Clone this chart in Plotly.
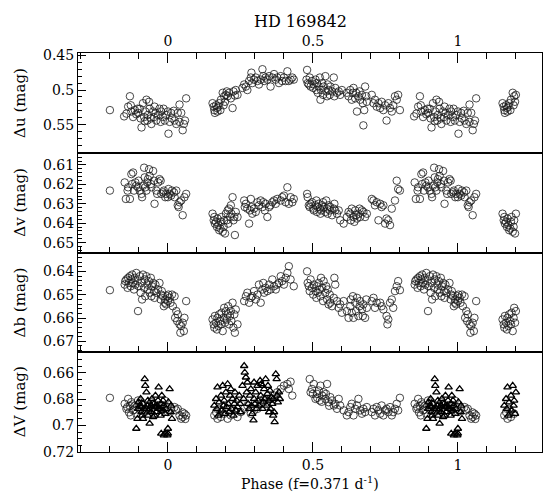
import plotly.graph_objects as go
from plotly.subplots import make_subplots

# ---------------- data (base phase in [0,1), magnitude) ----------------
u_points = [
    (0.849,0.538),(0.857,0.534),(0.863,0.524),(0.869,0.509),(0.874,0.531),(0.880,0.539),(0.886,0.529),
    (0.891,0.535),(0.897,0.533),(0.903,0.527),(0.906,0.541),(0.909,0.554),(0.914,0.519),(0.918,0.539),
    (0.922,0.531),(0.926,0.514),(0.929,0.544),(0.931,0.536),(0.937,0.527),(0.941,0.541),(0.943,0.549),
    (0.949,0.531),(0.952,0.539),(0.954,0.524),(0.960,0.544),(0.966,0.536),(0.971,0.527),(0.975,0.546),
    (0.977,0.531),(0.983,0.539),(0.989,0.544),(0.994,0.536),(0.000,0.531),(0.002,0.563),(0.006,0.546),
    (0.011,0.533),(0.014,0.541),(0.023,0.544),(0.029,0.549),(0.034,0.533),(0.040,0.546),(0.046,0.533),
    (0.051,0.558),(0.055,0.549),(0.059,0.544),(0.063,0.512),(0.872,0.522),(0.895,0.527),(0.920,0.545),
    (0.935,0.517),(0.958,0.533),(0.985,0.527),(0.020,0.530),(0.040,0.521),
    (0.154,0.519),(0.158,0.524),(0.160,0.529),(0.162,0.533),(0.166,0.522),(0.169,0.526),(0.171,0.531),
    (0.174,0.524),(0.177,0.519),(0.181,0.529),(0.183,0.514),(0.189,0.504),(0.192,0.522),(0.194,0.509),
    (0.197,0.517),(0.200,0.507),(0.203,0.502),(0.206,0.509),(0.211,0.504),(0.217,0.512),(0.223,0.526),
    (0.226,0.502),(0.231,0.508),(0.234,0.500),(0.240,0.507),(0.257,0.497),(0.263,0.492),(0.269,0.495),
    (0.274,0.500),(0.280,0.487),(0.286,0.482),(0.288,0.475),(0.291,0.490),(0.297,0.485),(0.303,0.482),
    (0.309,0.487),(0.314,0.492),(0.320,0.485),(0.326,0.470),(0.329,0.480),(0.332,0.487),(0.337,0.482),
    (0.343,0.485),(0.349,0.480),(0.354,0.495),(0.360,0.482),(0.366,0.477),(0.372,0.485),(0.377,0.482),
    (0.383,0.490),(0.389,0.480),(0.394,0.487),(0.400,0.482),(0.406,0.487),(0.412,0.473),(0.417,0.487),
    (0.423,0.485),(0.429,0.482),(0.434,0.485),
    (0.480,0.471),(0.478,0.485),(0.482,0.490),(0.486,0.492),(0.489,0.482),(0.492,0.495),(0.497,0.487),
    (0.501,0.497),(0.503,0.492),(0.509,0.485),(0.512,0.500),(0.514,0.490),(0.517,0.504),(0.520,0.495),
    (0.524,0.482),(0.526,0.514),(0.528,0.500),(0.532,0.490),(0.535,0.507),(0.537,0.495),(0.543,0.480),
    (0.546,0.502),(0.549,0.509),(0.551,0.492),(0.554,0.500),(0.558,0.507),(0.560,0.495),(0.566,0.502),
    (0.572,0.482),(0.574,0.509),(0.577,0.497),(0.583,0.504),(0.589,0.502),(0.594,0.507),(0.600,0.500),
    (0.617,0.504),(0.623,0.509),(0.629,0.500),(0.634,0.514),(0.638,0.504),(0.640,0.497),(0.646,0.512),
    (0.649,0.504),(0.652,0.531),(0.657,0.509),(0.661,0.502),(0.663,0.514),(0.669,0.507),(0.672,0.519),
    (0.674,0.551),(0.677,0.529),(0.680,0.495),(0.684,0.509),(0.686,0.517),(0.703,0.507),(0.709,0.519),
    (0.714,0.514),(0.720,0.524),(0.726,0.519),(0.732,0.526),(0.737,0.517),(0.743,0.529),(0.749,0.522),
    (0.754,0.544),(0.760,0.519),(0.766,0.526),(0.772,0.531),(0.777,0.522),(0.783,0.509),(0.789,0.514),
    (0.794,0.507),(0.800,0.529),
]

v_points = [
    (0.851,0.6190),(0.855,0.6275),(0.861,0.6232),(0.863,0.6215),(0.869,0.6275),(0.874,0.6147),(0.877,0.6198),
    (0.880,0.6139),(0.883,0.6232),(0.888,0.6190),(0.891,0.6207),(0.897,0.6215),(0.899,0.6181),(0.903,0.6232),
    (0.909,0.6249),(0.911,0.6266),(0.914,0.6207),(0.918,0.6114),(0.920,0.6164),(0.922,0.6215),(0.926,0.6232),
    (0.929,0.6190),(0.931,0.6173),(0.935,0.6122),(0.937,0.6156),(0.941,0.6198),(0.943,0.6215),(0.949,0.6131),
    (0.952,0.6181),(0.954,0.6300),(0.960,0.6232),(0.963,0.6249),(0.966,0.6190),(0.971,0.6173),(0.975,0.6181),
    (0.977,0.6249),(0.983,0.6241),(0.986,0.6232),(0.991,0.6266),(0.994,0.6249),(0.000,0.6266),(0.002,0.6224),
    (0.006,0.6249),(0.011,0.6258),(0.014,0.6232),(0.021,0.6241),(0.023,0.6266),(0.029,0.6232),(0.034,0.6308),
    (0.037,0.6317),(0.040,0.6292),(0.046,0.6283),(0.051,0.6359),(0.057,0.6266),(0.063,0.6249),
    (0.154,0.6351),(0.158,0.6385),(0.160,0.6368),(0.162,0.6402),(0.166,0.6393),(0.169,0.6419),(0.171,0.6376),
    (0.174,0.6410),(0.177,0.6436),(0.181,0.6427),(0.183,0.6393),(0.185,0.6368),(0.189,0.6444),(0.192,0.6419),
    (0.194,0.6385),(0.197,0.6453),(0.200,0.6351),(0.203,0.6385),(0.206,0.6334),(0.208,0.6402),(0.211,0.6325),
    (0.214,0.6368),(0.217,0.6308),(0.219,0.6351),(0.223,0.6266),(0.226,0.6385),(0.229,0.6368),(0.231,0.6461),
    (0.234,0.6342),(0.240,0.6368),
    (0.263,0.6283),(0.265,0.6317),(0.269,0.6300),(0.274,0.6325),(0.280,0.6402),(0.283,0.6334),(0.286,0.6275),
    (0.288,0.6317),(0.291,0.6351),(0.297,0.6325),(0.303,0.6342),(0.309,0.6292),(0.314,0.6308),(0.320,0.6283),
    (0.326,0.6317),(0.329,0.6292),(0.334,0.6334),(0.337,0.6300),(0.343,0.6368),(0.349,0.6317),(0.354,0.6308),
    (0.360,0.6292),(0.366,0.6283),(0.372,0.6300),(0.377,0.6275),(0.389,0.6283),(0.394,0.6266),(0.400,0.6258),
    (0.406,0.6292),(0.412,0.6215),(0.417,0.6300),(0.423,0.6266),(0.429,0.6292),(0.434,0.6275),
    (0.480,0.6249),(0.482,0.6266),(0.486,0.6308),(0.489,0.6317),(0.492,0.6300),(0.497,0.6292),(0.501,0.6325),
    (0.503,0.6334),(0.509,0.6308),(0.512,0.6283),(0.514,0.6342),(0.517,0.6317),(0.520,0.6300),(0.524,0.6325),
    (0.526,0.6351),(0.528,0.6334),(0.532,0.6308),(0.535,0.6292),(0.537,0.6317),(0.543,0.6342),(0.546,0.6283),
    (0.549,0.6325),(0.551,0.6351),(0.554,0.6308),(0.558,0.6334),(0.560,0.6317),(0.566,0.6359),(0.572,0.6325),
    (0.574,0.6300),(0.577,0.6334),(0.583,0.6351),(0.589,0.6334),(0.594,0.6385),(0.606,0.6402),(0.617,0.6368),
    (0.623,0.6342),(0.629,0.6351),(0.631,0.6385),(0.634,0.6325),(0.640,0.6368),(0.643,0.6393),(0.646,0.6334),
    (0.649,0.6359),(0.652,0.6376),(0.657,0.6351),(0.661,0.6325),(0.663,0.6368),(0.669,0.6334),(0.674,0.6342),
    (0.680,0.6368),(0.686,0.6351),(0.703,0.6275),(0.709,0.6283),(0.714,0.6308),(0.720,0.6292),(0.726,0.6385),
    (0.732,0.6300),(0.737,0.6317),(0.743,0.6308),(0.749,0.6402),(0.754,0.6376),(0.760,0.6385),(0.766,0.6410),
    (0.772,0.6325),(0.783,0.6283),(0.789,0.6181),(0.794,0.6224),(0.800,0.6232),
]

b_points = [
    (0.851,0.6456),(0.853,0.6441),(0.857,0.6434),(0.861,0.6470),(0.863,0.6427),(0.865,0.6449),(0.869,0.6420),
    (0.872,0.6463),(0.874,0.6434),(0.877,0.6413),(0.880,0.6449),(0.883,0.6477),(0.886,0.6427),(0.888,0.6456),
    (0.891,0.6406),(0.895,0.6441),(0.897,0.6570),(0.899,0.6463),(0.903,0.6420),(0.906,0.6491),(0.909,0.6449),
    (0.911,0.6520),(0.914,0.6413),(0.918,0.6470),(0.920,0.6434),(0.922,0.6506),(0.926,0.6420),(0.929,0.6456),
    (0.931,0.6477),(0.934,0.6441),(0.937,0.6491),(0.941,0.6427),(0.943,0.6506),(0.945,0.6463),(0.949,0.6449),
    (0.952,0.6484),(0.954,0.6513),(0.957,0.6456),(0.960,0.6491),(0.966,0.6477),(0.971,0.6449),(0.975,0.6520),
    (0.977,0.6499),(0.979,0.6484),(0.983,0.6506),(0.986,0.6549),(0.989,0.6534),(0.991,0.6520),(0.994,0.6541),
    (0.998,0.6506),(0.000,0.6527),(0.002,0.6499),(0.006,0.6513),(0.009,0.6534),(0.014,0.6499),(0.017,0.6549),
    (0.023,0.6506),(0.025,0.6599),(0.029,0.6570),(0.032,0.6613),(0.034,0.6584),(0.040,0.6627),(0.043,0.6663),
    (0.046,0.6634),(0.051,0.6620),(0.055,0.6656),(0.057,0.6599),(0.063,0.6527),
    (0.154,0.6606),(0.158,0.6627),(0.160,0.6641),(0.162,0.6591),(0.166,0.6620),(0.169,0.6649),(0.171,0.6599),
    (0.174,0.6634),(0.177,0.6584),(0.181,0.6613),(0.183,0.6627),(0.185,0.6577),(0.189,0.6656),(0.192,0.6599),
    (0.194,0.6556),(0.197,0.6620),(0.200,0.6570),(0.203,0.6606),(0.206,0.6584),(0.208,0.6549),(0.211,0.6627),
    (0.214,0.6591),(0.217,0.6570),(0.219,0.6613),(0.223,0.6534),(0.226,0.6641),(0.229,0.6584),(0.231,0.6663),
    (0.234,0.6563),(0.240,0.6627),
    (0.263,0.6527),(0.269,0.6506),(0.274,0.6491),(0.280,0.6534),(0.286,0.6513),(0.291,0.6506),(0.297,0.6484),
    (0.303,0.6520),(0.309,0.6499),(0.314,0.6456),(0.320,0.6534),(0.326,0.6477),(0.329,0.6449),(0.332,0.6491),
    (0.337,0.6470),(0.343,0.6484),(0.349,0.6456),(0.354,0.6477),(0.360,0.6434),(0.366,0.6463),(0.372,0.6477),
    (0.377,0.6456),(0.383,0.6449),(0.389,0.6420),(0.394,0.6441),(0.400,0.6456),(0.406,0.6427),(0.412,0.6406),
    (0.417,0.6377),(0.423,0.6434),(0.434,0.6463),
    (0.480,0.6399),(0.482,0.6449),(0.486,0.6463),(0.489,0.6484),(0.492,0.6434),(0.497,0.6470),(0.501,0.6499),
    (0.503,0.6456),(0.509,0.6484),(0.512,0.6513),(0.514,0.6463),(0.517,0.6491),(0.520,0.6449),(0.524,0.6477),
    (0.526,0.6506),(0.528,0.6427),(0.532,0.6470),(0.535,0.6527),(0.537,0.6441),(0.543,0.6491),(0.546,0.6463),
    (0.549,0.6520),(0.551,0.6477),(0.554,0.6541),(0.558,0.6499),(0.560,0.6534),(0.566,0.6549),(0.572,0.6513),
    (0.574,0.6427),(0.577,0.6456),(0.583,0.6527),(0.589,0.6556),(0.594,0.6541),(0.600,0.6577),(0.606,0.6527),
    (0.617,0.6570),(0.623,0.6599),(0.629,0.6549),(0.631,0.6520),(0.634,0.6577),(0.638,0.6506),(0.640,0.6599),
    (0.646,0.6534),(0.649,0.6570),(0.652,0.6513),(0.657,0.6591),(0.661,0.6549),(0.663,0.6527),(0.669,0.6563),
    (0.672,0.6591),(0.674,0.6541),(0.680,0.6599),(0.684,0.6520),(0.686,0.6556),(0.703,0.6527),(0.709,0.6513),
    (0.714,0.6556),(0.720,0.6534),(0.732,0.6534),(0.737,0.6549),(0.743,0.6563),(0.754,0.6591),(0.757,0.6627),
    (0.760,0.6606),(0.766,0.6534),(0.772,0.6520),(0.777,0.6556),(0.783,0.6484),(0.789,0.6463),(0.794,0.6441),
    (0.800,0.6480),
]

V_circle_points = [
    (0.851,0.6835),(0.857,0.6873),(0.863,0.6798),(0.869,0.6853),(0.872,0.6923),(0.874,0.6823),(0.880,0.6885),
    (0.886,0.6850),(0.891,0.6910),(0.897,0.6810),(0.903,0.6873),(0.909,0.6835),(0.920,0.6898),(0.931,0.6860),
    (0.943,0.6823),(0.954,0.6885),(0.966,0.6850),(0.977,0.6873),(0.989,0.6810),(0.000,0.6898),(0.011,0.6873),
    (0.023,0.6860),(0.029,0.6885),(0.034,0.6873),(0.040,0.6923),(0.046,0.6948),(0.051,0.6935),(0.057,0.6910),
    (0.063,0.6923),(0.860,0.6860),(0.878,0.6840),(0.866,0.6900),(0.884,0.6880),(0.050,0.6900),(0.060,0.6950),
    (0.160,0.6923),(0.166,0.6898),(0.171,0.6948),(0.177,0.6873),(0.183,0.6935),(0.194,0.6910),(0.206,0.6948),
    (0.217,0.6923),(0.229,0.6885),(0.240,0.6935),(0.251,0.6898),(0.263,0.6873),(0.274,0.6848),(0.286,0.6910),
    (0.297,0.6885),(0.309,0.6873),(0.320,0.6835),(0.332,0.6798),(0.343,0.6823),(0.354,0.6798),(0.366,0.6773),
    (0.377,0.6748),(0.389,0.6723),(0.400,0.6698),(0.412,0.6685),(0.417,0.6723),(0.423,0.6668),(0.429,0.6773),
    (0.489,0.6648),(0.492,0.6748),(0.497,0.6723),(0.503,0.6685),(0.509,0.6798),(0.514,0.6760),(0.520,0.6735),
    (0.524,0.6810),(0.526,0.6698),(0.532,0.6773),(0.537,0.6748),(0.543,0.6798),(0.549,0.6685),(0.554,0.6823),
    (0.560,0.6785),(0.566,0.6810),(0.572,0.6848),(0.577,0.6835),(0.583,0.6873),(0.589,0.6798),(0.594,0.6848),
    (0.606,0.6885),(0.617,0.6923),(0.623,0.6898),(0.629,0.6860),(0.634,0.6835),(0.640,0.6923),(0.646,0.6873),
    (0.652,0.6848),(0.657,0.6798),(0.663,0.6885),(0.669,0.6910),(0.674,0.6873),(0.680,0.6898),(0.686,0.6860),
    (0.703,0.6898),(0.709,0.6873),(0.714,0.6923),(0.720,0.6860),(0.726,0.6885),(0.732,0.6910),(0.737,0.6848),
    (0.743,0.6923),(0.749,0.6885),(0.754,0.6873),(0.760,0.6898),(0.766,0.6860),(0.772,0.6923),(0.777,0.6898),
    (0.783,0.6873),(0.789,0.6835),(0.794,0.6885),(0.800,0.6790),(0.500,0.6760),(0.515,0.6790),(0.530,0.6820),
    (0.545,0.6760),(0.556,0.6850),
]

V_triangle_points = [
    (0.891,0.7023),(0.895,0.6948),(0.897,0.6873),(0.899,0.6823),(0.903,0.6848),(0.906,0.6798),(0.909,0.6898),
    (0.911,0.6923),(0.914,0.6835),(0.918,0.6873),(0.920,0.6648),(0.922,0.6698),(0.926,0.6748),(0.929,0.6848),
    (0.931,0.6810),(0.934,0.6885),(0.937,0.6985),(0.941,0.6848),(0.943,0.6898),(0.945,0.6798),(0.949,0.6935),
    (0.952,0.6835),(0.954,0.6860),(0.957,0.6773),(0.960,0.6898),(0.963,0.6848),(0.966,0.6810),(0.968,0.6710),
    (0.971,0.6873),(0.975,0.6923),(0.977,0.6835),(0.979,0.6773),(0.983,0.6885),(0.986,0.6848),(0.989,0.7060),
    (0.991,0.6910),(0.994,0.6873),(0.998,0.7073),(0.000,0.7023),(0.002,0.6823),(0.006,0.6723),(0.009,0.6898),
    (0.011,0.6848),(0.014,0.6948),(0.000,0.7060),(0.977,0.7060),(0.986,0.7073),(0.960,0.6860),(0.943,0.6848),
    (0.926,0.6873),(0.909,0.6860),(0.931,0.6923),(0.954,0.6923),(0.983,0.6810),(0.966,0.6873),(0.914,0.6948),
    (0.160,0.6848),(0.166,0.6798),(0.169,0.6873),(0.171,0.6710),(0.174,0.6923),(0.177,0.6823),(0.183,0.6773),
    (0.185,0.6885),(0.189,0.6698),(0.192,0.6848),(0.194,0.6810),(0.197,0.6910),(0.200,0.6748),(0.203,0.6860),
    (0.206,0.6685),(0.208,0.6835),(0.211,0.6898),(0.214,0.6773),(0.217,0.6723),(0.219,0.6873),(0.223,0.6798),
    (0.226,0.6923),(0.229,0.6835),(0.231,0.6748),(0.234,0.6885),(0.237,0.6810),(0.240,0.6860),(0.246,0.6773),
    (0.249,0.6835),(0.251,0.6898),(0.257,0.6698),(0.261,0.6798),(0.263,0.6548),(0.265,0.6598),(0.269,0.6635),
    (0.272,0.6748),(0.274,0.6673),(0.277,0.6835),(0.280,0.6873),(0.283,0.6773),(0.286,0.6723),(0.288,0.6848),
    (0.291,0.6910),(0.295,0.6960),(0.297,0.6798),(0.300,0.6835),(0.303,0.6748),(0.306,0.6873),(0.309,0.6698),
    (0.311,0.6810),(0.314,0.6848),(0.318,0.6660),(0.320,0.6773),(0.322,0.6685),(0.326,0.6873),(0.329,0.6823),
    (0.332,0.6723),(0.334,0.6798),(0.337,0.6648),(0.341,0.6848),(0.343,0.6760),(0.345,0.6698),(0.349,0.6810),
    (0.352,0.6735),(0.354,0.6873),(0.357,0.6785),(0.360,0.6835),(0.363,0.6798),(0.366,0.6898),(0.368,0.6973),
    (0.372,0.6610),(0.375,0.6648),(0.377,0.6773),(0.379,0.6823),(0.383,0.6748),(0.386,0.6798),(0.363,0.6923),
    (0.349,0.6898),(0.326,0.6698),(0.297,0.6673),
]

panel_titles = ["\u0394u (mag)", "\u0394v (mag)", "\u0394b (mag)", "\u0394V (mag)"]
y_ranges = [[0.5905, 0.4466], [0.6551, 0.6037], [0.6747, 0.6318], [0.7200, 0.6445]]
y_major_dtick = [0.05, 0.01, 0.01, 0.02]
y_minor_dtick = [0.01, 0.002, 0.002, 0.005]
x_major_dtick = 0.5
x_minor_dtick = 0.1
x_range = [-0.31, 1.29]
title_text = "HD 169842"
x_title = "Phase (f=0.371 d<sup>-1</sup>)"


def fold(points, lo=-0.2, hi=1.2):
    """Phase-fold display: plot each point at phase, phase-1 and phase+1 within [lo, hi]."""
    xs, ys = [], []
    for p, m in points:
        for shift in (-1, 0, 1):
            q = p + shift
            if lo - 1e-9 <= q <= hi + 1e-9:
                xs.append(q)
                ys.append(m)
    return xs, ys


FONT = "DejaVu Serif"
fig = make_subplots(rows=4, cols=1, vertical_spacing=0)

circle_style = dict(symbol="circle-open", size=7.5, color="#1a1a1a", line=dict(width=0.8))
tri_style = dict(symbol="triangle-up-open", size=6.5, color="black", line=dict(width=1.3))

for row, pts in enumerate([u_points, v_points, b_points, V_circle_points], start=1):
    xs, ys = fold(pts)
    fig.add_trace(go.Scatter(x=xs, y=ys, mode="markers", marker=circle_style,
                             showlegend=False), row=row, col=1)
xs, ys = fold(V_triangle_points)
fig.add_trace(go.Scatter(x=xs, y=ys, mode="markers", marker=tri_style,
                         showlegend=False), row=4, col=1)

for i in range(4):
    row = i + 1
    xk = dict(range=x_range, tick0=0, dtick=x_major_dtick, ticks="inside", ticklen=10,
              tickcolor="black",
              minor=dict(dtick=x_minor_dtick, ticks="inside", ticklen=6),
              showline=True, linecolor="black", mirror=True,
              showgrid=False, zeroline=False,
              tickfont=dict(family=FONT, size=14, color="black"))
    if row == 1:
        xk["side"] = "top"
    elif row in (2, 3):
        xk["showticklabels"] = False
    fig.update_xaxes(row=row, col=1, **xk)
    fig.update_yaxes(
        row=row, col=1, range=y_ranges[i], tick0=0, dtick=y_major_dtick[i],
        ticks="inside", ticklen=8, tickcolor="black",
        minor=dict(dtick=y_minor_dtick[i], ticks="inside", ticklen=4),
        showline=True, linecolor="black", mirror=True,
        showgrid=False, zeroline=False,
        tickfont=dict(family=FONT, size=14, color="black"),
    )
    fig.add_annotation(text=panel_titles[i], xref="paper", yref=f"y{'' if row == 1 else row} domain",
                       x=-0.125, y=0.5, textangle=-90, showarrow=False,
                       xanchor="center", yanchor="middle",
                       font=dict(family=FONT, size=15, color="black"))

fig.add_annotation(text=x_title, xref="paper", yref="paper", x=0.5, y=-0.078,
                   xanchor="center", yanchor="middle", showarrow=False,
                   font=dict(family=FONT, size=14, color="black"))

fig.add_annotation(text=title_text, xref="paper", yref="paper", x=0.48, y=1.08,
                   xanchor="center", yanchor="middle", showarrow=False,
                   font=dict(family=FONT, size=16, color="black"))

fig.update_layout(
    width=546, height=493,
    margin=dict(l=78, r=4, t=53, b=41),
    paper_bgcolor="white", plot_bgcolor="white",
)

fig.write_html("out.html")
